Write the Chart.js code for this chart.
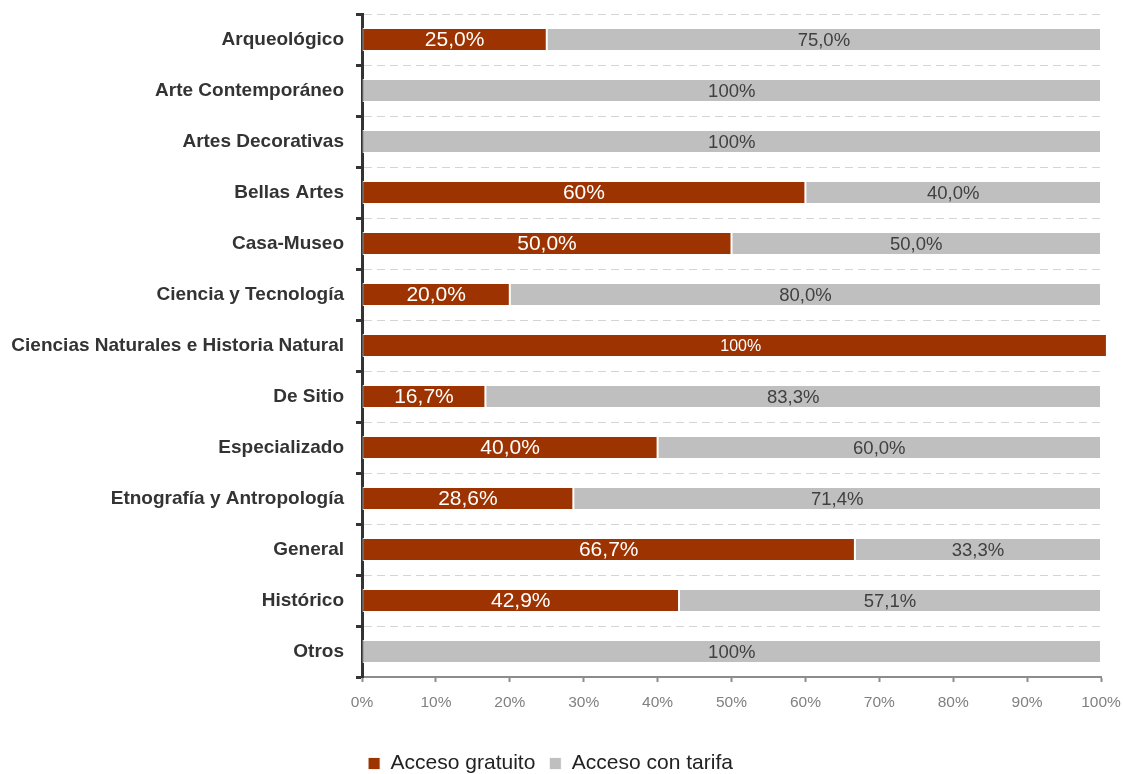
<!DOCTYPE html>
<html>
<head>
<meta charset="utf-8">
<script src="https://cdn.jsdelivr.net/npm/chart.js@4/dist/chart.umd.min.js"></script>
<style>
  html, body { margin: 0; padding: 0; background: #fff; }
  #wrap { width: 1123px; height: 774px; position: relative; }
</style>
</head>
<body>
<div id="wrap"><canvas id="c" width="1123" height="774"></canvas></div>
<script>
const categories = [
  "Arqueológico", "Arte Contemporáneo", "Artes Decorativas", "Bellas Artes",
  "Casa-Museo", "Ciencia y Tecnología", "Ciencias Naturales e Historia Natural",
  "De Sitio", "Especializado", "Etnografía y Antropología", "General",
  "Histórico", "Otros"
];
const seriesNames = ["Acceso gratuito", "Acceso con tarifa"];
const gratuito = [25.0, 0, 0, 60, 50.0, 20.0, 100.8, 16.7, 40.0, 28.6, 66.7, 42.9, 0];
const tarifa   = [75.0, 100, 100, 40.0, 50.0, 80.0, 0, 83.3, 60.0, 71.4, 33.3, 57.1, 100];
const gratuitoLabels = ["25,0%", "", "", "60%", "50,0%", "20,0%", "100%", "16,7%", "40,0%", "28,6%", "66,7%", "42,9%", ""];
const tarifaLabels   = ["75,0%", "100%", "100%", "40,0%", "50,0%", "80,0%", "", "83,3%", "60,0%", "71,4%", "33,3%", "57,1%", "100%"];
const xTicks = [0, 10, 20, 30, 40, 50, 60, 70, 80, 90, 100];

const RED = '#9C3300';
const GREY = '#BFBFBF';
const FONT = "'Liberation Sans', Arial, sans-serif";

const barLabels = {
  id: 'barLabels',
  afterDatasetsDraw(chart) {
    const ctx = chart.ctx;
    const allLabels = [gratuitoLabels, tarifaLabels];
    chart.data.datasets.forEach((ds, di) => {
      const meta = chart.getDatasetMeta(di);
      meta.data.forEach((bar, i) => {
        const txt = allLabels[di][i];
        if (!txt) return;
        const cx = (bar.x + bar.base) / 2;
        ctx.save();
        ctx.textAlign = 'center';
        ctx.textBaseline = 'middle';
        if (di === 0) {
          ctx.fillStyle = '#ffffff';
          ctx.font = (gratuito[i] >= 100 ? "16px 'Liberation Sans Narrow', " + FONT : "21px " + FONT);
        } else {
          ctx.fillStyle = '#404040';
          ctx.font = "18.5px " + FONT;
        }
        ctx.fillText(txt, cx + (gratuito[i] >= 100 ? 6 : 0), bar.y + 1);
        ctx.restore();
      });
    });
  }
};

new Chart(document.getElementById('c'), {
  type: 'bar',
  data: {
    labels: categories,
    datasets: [
      { label: seriesNames[0], data: gratuito, backgroundColor: RED, borderColor: 'rgba(255,255,255,0.85)', borderWidth: 1, borderSkipped: false, clip: false },
      { label: seriesNames[1], data: tarifa, backgroundColor: GREY, borderColor: 'rgba(255,255,255,0.85)', borderWidth: 1, borderSkipped: false }
    ]
  },
  options: {
    indexAxis: 'y',
    responsive: false,
    animation: false,
    devicePixelRatio: 1,
    categoryPercentage: 1,
    barPercentage: 0.45,
    layout: { padding: { top: 14, right: 22, left: 0, bottom: -10 } },
    plugins: {
      tooltip: { enabled: false },
      legend: {
        position: 'bottom',
        labels: {
          boxWidth: 12, boxHeight: 12, padding: 14,
          color: '#222', font: { family: FONT, size: 21 }
        }
      }
    },
    scales: {
      x: {
        stacked: true, min: 0, max: 100,
        afterBuildTicks(scale) { scale.ticks = xTicks.map(v => ({ value: v })); },
        ticks: { callback: v => v + '%', color: '#808080', font: { family: FONT, size: 15.5 }, padding: 11, maxRotation: 0 },
        grid: { drawOnChartArea: false, drawTicks: true, tickLength: 5, tickColor: '#8c8c8c', tickWidth: 2 },
        border: { color: '#8c8c8c', width: 2 },
        afterFit(scale) { scale.height = 62; scale.paddingLeft = 0; scale.paddingRight = 0; }
      },
      y: {
        stacked: true,
        ticks: { color: '#333', font: { family: FONT, size: 19, weight: 'bold' }, padding: 12 },
        grid: { offset: true, color: '#d4d4d4', lineWidth: 1, drawTicks: true, tickLength: 6, tickColor: '#333', tickWidth: 3 },
        border: { color: '#333', width: 3, dash: [8, 5] },
        afterFit(scale) { scale.width = 362; scale.paddingTop = 0; scale.paddingBottom = 0; }
      }
    }
  },
  plugins: [barLabels]
});
</script>
</body>
</html>
